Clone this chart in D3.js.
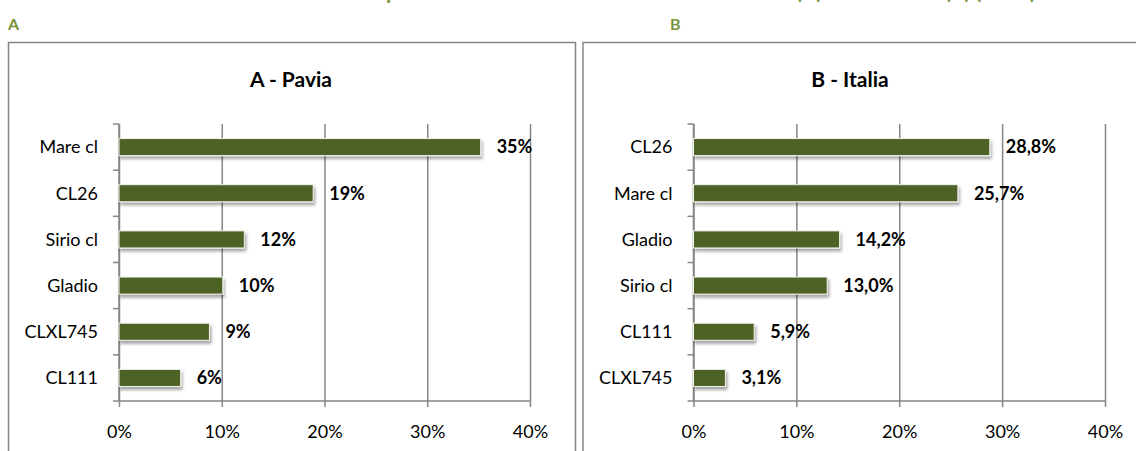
<!DOCTYPE html>
<html>
<head>
<meta charset="utf-8">
<script src="https://cdn.jsdelivr.net/npm/d3@7"></script>
<style>
  body { margin: 0; background: #fff; }
  svg { display: block; font-family: Lato, "Open Sans", sans-serif; }
</style>
</head>
<body>
<svg id="chart"></svg>
<script>
// data
const catsA = ['Mare cl', 'CL26', 'Sirio cl', 'Gladio', 'CLXL745', 'CL111'];
const valsA = [35.2, 18.9, 12.2, 10.1, 8.8, 6.0];
const catsB = ['CL26', 'Mare cl', 'Gladio', 'Sirio cl', 'CL111', 'CLXL745'];
const valsB = [28.8, 25.7, 14.2, 13.0, 5.9, 3.1];
const xTicks = [0, 10, 20, 30, 40];

const W = 1136, H = 451;
const green = '#4F6228';
const titleGreen = '#77933C';
const gridCol = '#868686';

const svg = d3.select('#chart').attr('width', W).attr('height', H);

// shadow for the bars
const defs = svg.append('defs');
defs.append('filter').attr('id', 'shadow')
    .attr('x', '-10%').attr('y', '-30%').attr('width', '130%').attr('height', '180%')
    .append('feDropShadow')
    .attr('dx', 1.5).attr('dy', 3).attr('stdDeviation', 1.6)
    .attr('flood-color', '#000').attr('flood-opacity', 0.35);

// page title, cut at the top edge like in the source (only descenders show)
const pageTitle = svg.append('g').attr('fill', titleGreen).attr('font-weight', 'bold').attr('font-size', 21);
pageTitle.append('text').attr('x', 386).attr('y', -1.5).attr('text-anchor', 'end').text('Tabella 4 - Diffusione');
pageTitle.append('text').attr('x', 386).attr('y', -1.5).text('percentuale delle varietà a Pavia');
pageTitle.append('text').attr('x', 796).attr('y', -1.5).text('(A) e in Italia');
pageTitle.append('text').attr('x', 945).attr('y', -1.5).text('(B) (2012)');

// panel letters
svg.append('text').attr('x', 8).attr('y', 30).attr('fill', titleGreen)
    .attr('font-weight', 'bold').attr('font-size', 16).text('A');
svg.append('text').attr('x', 670).attr('y', 30).attr('fill', titleGreen)
    .attr('font-weight', 'bold').attr('font-size', 16).text('B');

function drawPanel(cfg) {
    // frame
    svg.append('rect')
        .attr('x', cfg.frame[0]).attr('y', 42.5)
        .attr('width', cfg.frame[1]).attr('height', 440)
        .attr('fill', 'none').attr('stroke', gridCol).attr('stroke-width', 1.5);

    svg.append('text')
        .attr('x', cfg.titleX).attr('y', 87)
        .attr('text-anchor', 'middle')
        .attr('font-weight', 'bold').attr('font-size', 21)
        .text(cfg.title);

    const x = d3.scaleLinear().domain([0, 40]).range([cfg.x0, cfg.x1]);
    const y = d3.scaleBand().domain(cfg.cats).range([124, 401])
        .paddingInner(0.63).paddingOuter(0.315);

    const g = svg.append('g');

    // gridlines + x axis
    const xAxis = g.append('g')
        .attr('transform', 'translate(0,401)')
        .call(d3.axisBottom(x).tickValues(xTicks).tickSizeInner(-277).tickSizeOuter(0)
            .tickFormat(d => d + '%'));
    xAxis.select('.domain').remove();
    xAxis.selectAll('line').attr('stroke', gridCol).attr('stroke-width', 1.5);
    xAxis.selectAll('text').attr('y', 24).attr('font-size', 18).attr('fill', '#000')
        .attr('font-family', 'Lato, sans-serif');
    // small tick below the axis line
    xAxis.selectAll('.tick').append('line')
        .attr('y1', 0).attr('y2', 6).attr('stroke', gridCol).attr('stroke-width', 1.5);

    // bottom axis line
    g.append('line')
        .attr('x1', x(0)).attr('x2', x(40)).attr('y1', 401).attr('y2', 401)
        .attr('stroke', gridCol).attr('stroke-width', 1.5);

    // y axis line and boundary ticks
    g.append('line')
        .attr('x1', x(0)).attr('x2', x(0)).attr('y1', 124).attr('y2', 401)
        .attr('stroke', gridCol).attr('stroke-width', 1.5);
    const bounds = d3.range(cfg.cats.length + 1).map(i => y.range()[0] + i * y.step());
    g.selectAll('line.ytick').data(bounds).join('line')
        .attr('class', 'ytick')
        .attr('x1', x(0) - 6).attr('x2', x(0))
        .attr('y1', d => d).attr('y2', d => d)
        .attr('stroke', gridCol).attr('stroke-width', 1.5);

    // category labels
    g.selectAll('text.cat').data(cfg.cats).join('text')
        .attr('class', 'cat')
        .attr('x', x(0) - 21)
        .attr('y', d => y(d) + y.bandwidth() / 2)
        .attr('dy', '0.35em')
        .attr('text-anchor', 'end')
        .attr('font-size', 18)
        .text(d => d);

    // bars
    g.selectAll('rect.bar').data(cfg.vals).join('rect')
        .attr('class', 'bar')
        .attr('x', x(0))
        .attr('y', (d, i) => y(cfg.cats[i]))
        .attr('width', d => x(d) - x(0))
        .attr('height', y.bandwidth())
        .attr('fill', green)
        .attr('stroke', '#f2f4ec').attr('stroke-width', 1)
        .attr('filter', 'url(#shadow)');

    // value labels
    g.selectAll('text.val').data(cfg.vals).join('text')
        .attr('class', 'val')
        .attr('x', d => x(d) + 16)
        .attr('y', (d, i) => y(cfg.cats[i]) + y.bandwidth() / 2)
        .attr('dy', '0.35em')
        .attr('font-weight', 'bold').attr('font-size', 18)
        .text(cfg.fmt);
}

drawPanel({
    frame: [8.5, 567], title: 'A - Pavia', titleX: 291,
    x0: 119, x1: 530, cats: catsA, vals: valsA,
    fmt: d => Math.round(d) + '%'
});
drawPanel({
    frame: [583, 600], title: 'B - Italia', titleX: 850,
    x0: 693.5, x1: 1105, cats: catsB, vals: valsB,
    fmt: d => d.toFixed(1).replace('.', ',') + '%'
});
</script>
</body>
</html>
